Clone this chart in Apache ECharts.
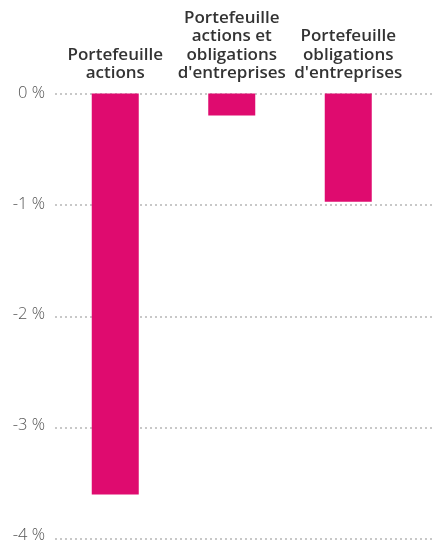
<!DOCTYPE html>
<html>
<head>
<meta charset="utf-8">
<script src="https://cdn.jsdelivr.net/npm/echarts@6/dist/echarts.min.js"></script>
<style>
  html, body { margin: 0; padding: 0; background: #fff; }
  #chart { width: 432px; height: 544px; }
</style>
</head>
<body>
<div id="chart"></div>
<script>
// Portfolio categories and their values (in %)
const categories = [
  'Portefeuille\nactions',
  'Portefeuille\nactions et\nobligations\nd\'entreprises',
  'Portefeuille\nobligations\nd\'entreprises'
];
const values = [-3.63, -0.2, -0.98];
const yTicks = [0, -1, -2, -3, -4];

const barColor = '#df0b6f';
const fontFamily = '"Open Sans", Lato, sans-serif';

const chart = echarts.init(document.getElementById('chart'), null, { renderer: 'canvas' });

chart.setOption({
  animation: false,
  grid: [
    // bars
    { left: 57, right: 25.5, top: 93.5, bottom: 5, containLabel: false },
    // full-width dotted gridlines
    { left: 55, right: 0, top: 93.5, bottom: 5, containLabel: false }
  ],
  xAxis: [
    {
      type: 'category',
      gridIndex: 0,
      position: 'top',
      data: categories,
      axisLine: { show: false },
      axisTick: { show: false },
      axisLabel: {
        interval: 0,
        margin: 11,
        color: '#333',
        fontFamily: fontFamily,
        fontWeight: 600,
        fontSize: 17,
        lineHeight: 18.5,
        align: 'center'
      }
    },
    {
      type: 'value',
      gridIndex: 1,
      show: false
    }
  ],
  yAxis: [
    {
      type: 'value',
      gridIndex: 0,
      min: -4,
      max: 0,
      interval: 1,
      axisLine: { show: false },
      axisTick: { show: false },
      splitLine: { show: false },
      axisLabel: {
        margin: 12,
        color: '#555',
        fontFamily: fontFamily,
        fontWeight: 300,
        fontSize: 16.5,
        formatter: function (v) { return yTicks.indexOf(v) >= 0 ? v + ' %' : ''; }
      }
    },
    {
      type: 'value',
      gridIndex: 1,
      min: -4,
      max: 0,
      interval: 1,
      axisLine: { show: false },
      axisTick: { show: false },
      axisLabel: { show: false },
      splitLine: {
        show: true,
        lineStyle: { color: '#c8c8c8', width: 2, type: [2, 3] }
      }
    }
  ],
  series: [
    {
      type: 'bar',
      xAxisIndex: 0,
      yAxisIndex: 0,
      data: values,
      barWidth: 47,
      itemStyle: { color: barColor },
      z: 3
    }
  ]
});
</script>
</body>
</html>
